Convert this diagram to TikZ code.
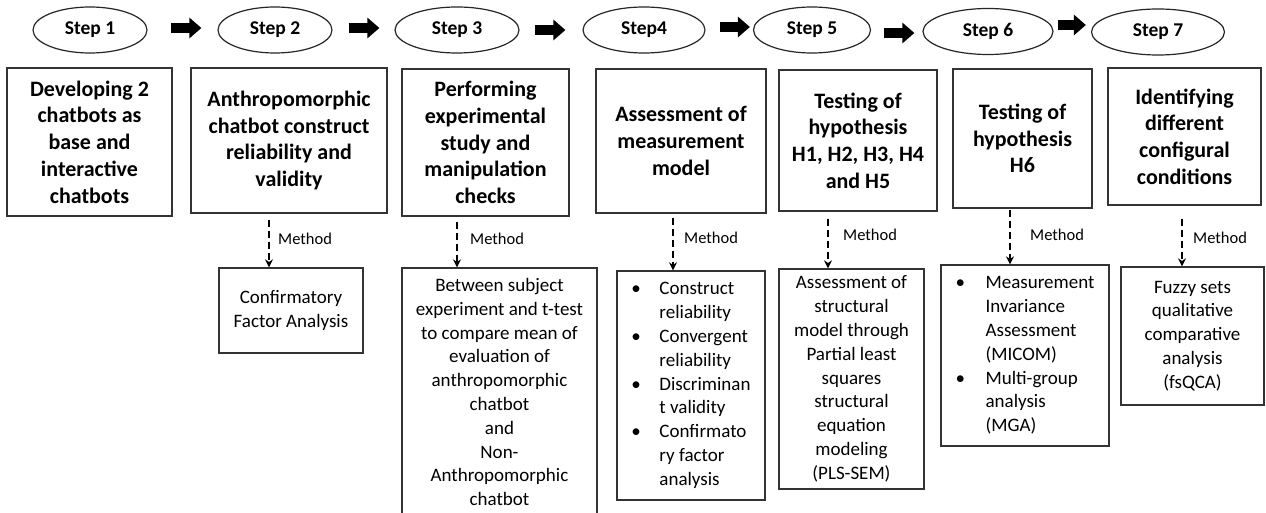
\documentclass[tikz,border=0pt]{standalone}
\usepackage{fontspec}
\setmainfont{Carlito}
\usetikzlibrary{shapes.geometric,arrows.meta,calc}
\begin{document}
\begin{tikzpicture}[x=1pt,y=-1pt,
 stepnode/.style={ellipse,draw=black!85,line width=1.2pt,inner sep=0pt,minimum height=46pt,font=\fontsize{19.5}{22}\selectfont\bfseries},
 ubox/.style={draw=black!80,line width=1.3pt,inner sep=0pt,align=center,font=\fontsize{22}{26.7}\selectfont\bfseries},
 lbox/.style={draw=black!80,line width=1.3pt,inner sep=0pt,align=center,font=\fontsize{19}{23.8}\selectfont},
 blist/.style={draw=black!80,line width=1.3pt,inner sep=0pt,align=left,font=\fontsize{19}{23.8}\selectfont},
 blockarrow/.style={line width=10pt,-{Triangle[length=12pt,width=20pt]}},
 methodarrow/.style={line width=1.8pt,dash pattern=on 7pt off 4pt,-{Stealth[length=8pt,width=8pt]}},
 methodlabel/.style={anchor=west,inner sep=0pt,font=\fontsize{16.5}{19}\selectfont}
]
\useasboundingbox (0,0) rectangle (1266,513);
\fill[white] (0,0) rectangle (1266,513);

% step ellipses
\node[stepnode,minimum width=114pt] (s1) at (90,30) {Step 1};
\node[stepnode,minimum width=114pt] (s2) at (275,30) {Step 2};
\node[stepnode,minimum width=124pt] (s3) at (457,30) {Step 3};
\node[stepnode,minimum width=122pt] (s4) at (644,30) {Step4};
\node[stepnode,minimum width=117pt] (s5) at (812,30) {Step 5};
\node[stepnode,minimum width=130pt] (s6) at (988,31.5) {Step 6};
\node[stepnode,minimum width=133pt] (s7) at (1158,32) {Step 7};

% block arrows
\draw[blockarrow] ($(s1.east)+(23,-2)$) -- ($(s2.west)+(-16,-2)$);
\draw[blockarrow] ($(s2.east)+(16,-2)$) -- ($(s3.west)+(-15,-2)$);
\draw[blockarrow] ($(s3.east)+(15,0)$) -- ($(s4.west)+(-17,0)$);
\draw[blockarrow] ($(s4.east)+(14,-3)$) -- ($(s5.west)+(-3,-3)$);
\draw[blockarrow] ($(s5.east)+(13,3)$) -- ($(s6.west)+(-8,1.5)$);
\draw[blockarrow] ($(s6.east)+(4,-6.5)$) -- ($(s7.west)+(-5,-7)$);

% upper boxes
\node[ubox,minimum width=165pt,minimum height=148pt] (b1) at (89.5,142) {Developing 2\\chatbots as\\base and\\interactive\\chatbots};
\node[ubox,minimum width=196pt,minimum height=145pt] (b2) at (289,140.5) {Anthropomorphic\\chatbot construct\\reliability and\\validity};
\node[ubox,minimum width=167pt,minimum height=147pt] (b3) at (485.5,142.5) {Performing\\experimental\\study and\\manipulation\\checks};
\node[ubox,minimum width=170pt,minimum height=144pt] (b4) at (681,141) {Assessment of\\measurement\\model};
\node[ubox,minimum width=158pt,minimum height=141pt] (b5) at (858,140.5) {Testing of\\hypothesis\\H1, H2, H3, H4\\and H5};
\node[ubox,minimum width=139pt,minimum height=139pt] (b6) at (1022.5,138.5) {Testing of\\hypothesis\\H6};
\node[ubox,minimum width=153pt,minimum height=137pt] (b7) at (1184.5,136.5) {Identifying\\different\\configural\\conditions};

% lower boxes
\node[lbox,minimum width=144pt,minimum height=85pt] (m2) at (291,310.5) {Confirmatory\\Factor Analysis};
\node[lbox,minimum width=195pt,minimum height=248pt] (m3) at (499.5,392) {Between subject\\experiment and t-test\\to compare mean of\\evaluation of\\anthropomorphic\\chatbot\\and\\Non-\\Anthropomorphic\\chatbot};
\node[blist,minimum width=148pt,minimum height=229pt] (m4) at (691,385.5) {\makebox[28pt][l]{\textbullet}Construct\\\hspace*{28pt}reliability\\\makebox[28pt][l]{\textbullet}Convergent\\\hspace*{28pt}reliability\\\makebox[28pt][l]{\textbullet}Discriminan\\\hspace*{28pt}t validity\\\makebox[28pt][l]{\textbullet}Confirmato\\\hspace*{28pt}ry factor\\\hspace*{28pt}analysis};
\node[lbox,minimum width=145pt,minimum height=220pt] (m5) at (851.5,379) {Assessment of\\structural\\model through\\Partial least\\squares\\structural\\equation\\modeling\\(PLS-SEM)};
\node[blist,minimum width=168pt,minimum height=181pt] (m6) at (1025,355.5) {\makebox[30pt][l]{\textbullet}Measurement\\\hspace*{30pt}Invariance\\\hspace*{30pt}Assessment\\\hspace*{30pt}(MICOM)\\\makebox[30pt][l]{\textbullet}Multi-group\\\hspace*{30pt}analysis\\\hspace*{30pt}(MGA)};
\node[lbox,minimum width=143pt,minimum height=138pt] (m7) at (1192.5,336) {Fuzzy sets\\qualitative\\comparative\\analysis\\(fsQCA)};

% method arrows
\coordinate (x2) at (269,0);
\coordinate (x3) at (457,0);
\coordinate (x4) at (673,0);
\coordinate (x5) at (828,0);
\coordinate (x6) at (1010,0);
\coordinate (x7) at (1182,0);
\draw[methodarrow] ($(b2.south -| x2)+(0,6)$) -- (m2.north -| x2);
\draw[methodarrow] ($(b3.south -| x3)+(0,5)$) -- (m3.north -| x3);
\draw[methodarrow] ($(b4.south -| x4)+(0,4)$) -- (m4.north -| x4);
\draw[methodarrow] ($(b5.south -| x5)+(0,7)$) -- (m5.north -| x5);
\draw[methodarrow] ($(b6.south -| x6)+(0,1)$) -- (m6.north -| x6);
\draw[methodarrow] ($(b7.south -| x7)+(0,13)$) -- (m7.north -| x7);

\node[methodlabel] (l2) at (278,239) {Method};
\node[methodlabel] (l3) at (470,239) {Method};
\node[methodlabel] (l4) at (684,238) {Method};
\node[methodlabel] (l5) at (843,235) {Method};
\node[methodlabel] (l6) at (1030,235) {Method};
\node[methodlabel] (l7) at (1193,238) {Method};
\end{tikzpicture}
\end{document}
